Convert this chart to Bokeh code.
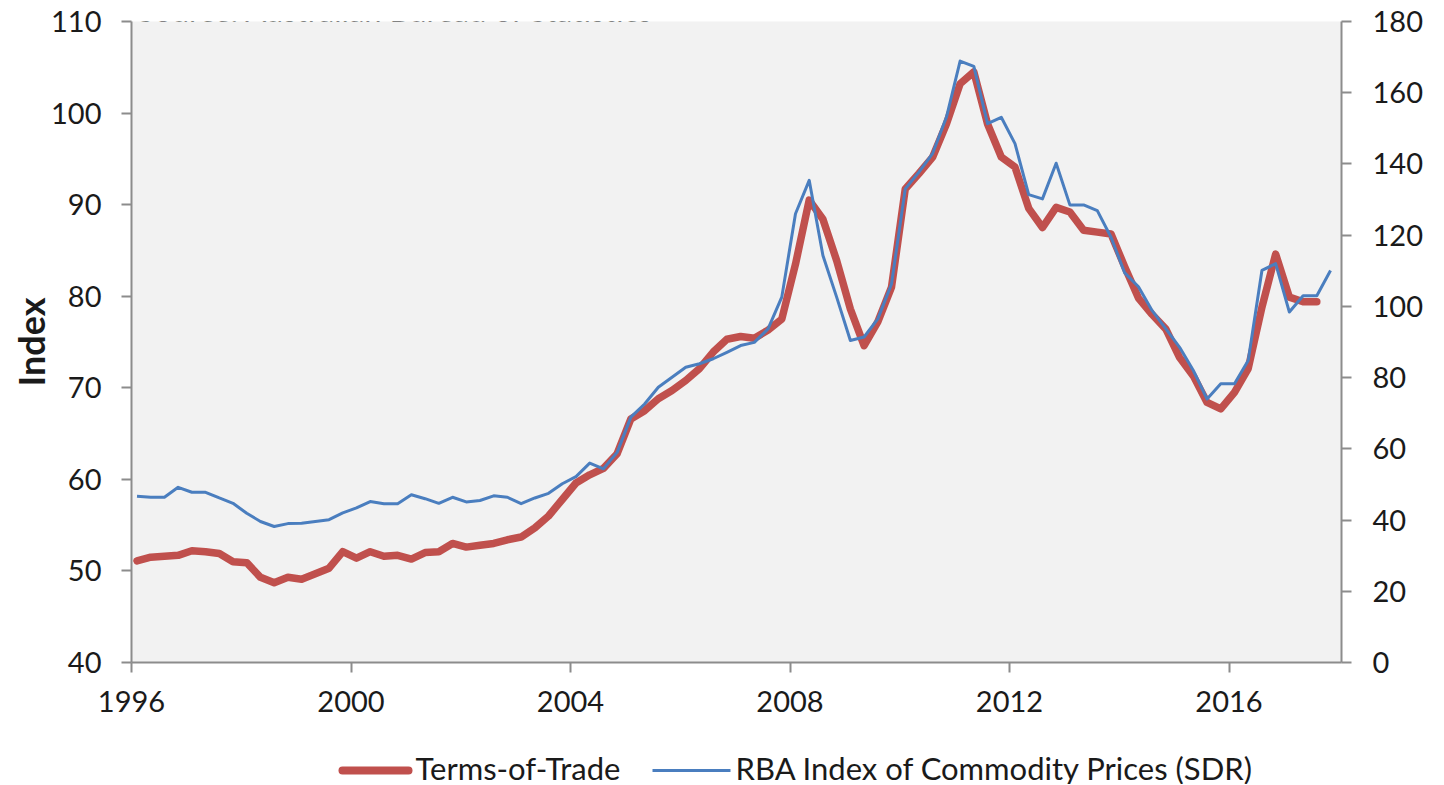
from bokeh.plotting import figure
from bokeh.models import Range1d, LinearAxis, FixedTicker, Label
from bokeh.layouts import column
from bokeh.core.properties import value
from bokeh.embed import file_html
from bokeh.resources import INLINE

# ---- data (quarterly, starting 1996 Q1) ----
terms_of_trade = [
    51.1, 51.5, 51.6, 51.7, 52.2, 52.1, 51.9, 51.0, 50.9, 49.3,
    48.7, 49.3, 49.1, 49.7, 50.3, 52.1, 51.4, 52.1, 51.6, 51.7,
    51.3, 52.0, 52.1, 53.0, 52.6, 52.8, 53.0, 53.4, 53.7, 54.7,
    56.0, 57.8, 59.6, 60.5, 61.2, 62.8, 66.6, 67.5, 68.8, 69.7,
    70.8, 72.1, 73.9, 75.3, 75.6, 75.4, 76.3, 77.5, 83.5, 90.5,
    88.4, 83.9, 78.6, 74.6, 77.2, 81.0, 91.7, 93.4, 95.2, 98.8,
    103.2, 104.5, 98.8, 95.2, 94.1, 89.6, 87.5, 89.7, 89.2, 87.2,
    87.0, 86.8, 83.2, 79.8, 78.0, 76.4, 73.3, 71.3, 68.4, 67.7,
    69.5, 72.1, 78.8, 84.6, 79.9, 79.4, 79.4,
]
rba_commodity_sdr = [
    46.7, 46.4, 46.4, 49.2, 47.8, 47.8, 46.2, 44.7, 41.9, 39.6,
    38.2, 39.0, 39.1, 39.6, 40.1, 42.0, 43.4, 45.2, 44.6, 44.6,
    47.1, 46.0, 44.7, 46.4, 45.1, 45.5, 46.8, 46.4, 44.6, 46.2,
    47.5, 50.2, 52.2, 56.0, 54.4, 59.0, 68.9, 72.6, 77.3, 80.1,
    82.9, 83.9, 85.3, 87.1, 89.0, 89.9, 93.7, 102.6, 126.0, 135.4,
    114.3, 102.6, 90.4, 91.4, 96.5, 106.3, 133.0, 137.7, 143.0, 153.1,
    168.9, 167.4, 151.3, 153.1, 145.7, 131.4, 130.2, 140.2, 128.5, 128.5,
    126.9, 119.4, 109.4, 105.5, 98.8, 93.7, 88.5, 82.0, 74.0, 78.3,
    78.3, 84.8, 110.1, 112.0, 98.4, 103.0, 103.0, 110.1,
]
series_names = ["Terms-of-Trade", "RBA Index of Commodity Prices (SDR)"]
source_note = "Source: Australian Bureau of Statistics"
first_quarter = 1996.1   # position of the first quarterly observation (decimal year)
quarter = 0.25
x_ticks = [1996, 2000, 2004, 2008, 2012, 2016]
left_ticks = [40, 50, 60, 70, 80, 90, 100, 110]
right_ticks = [0, 20, 40, 60, 80, 100, 120, 140, 160, 180]

x_tot = [first_quarter + quarter * i for i in range(len(terms_of_trade))]
x_rba = [first_quarter + quarter * i for i in range(len(rba_commodity_sdr))]

FONT = "Lato"
TXT = "#1a1a1a"
AX = "#8c8c8c"
RED = "#C0504D"
BLUE = "#4A7EBF"

W = 1440
MAIN_H, LEG_H = 735, 49
FL, FR, FT, FB = 131, 1341, 21, 662     # plot frame edges, page pixels
X0, X1, Y0, Y1 = 1996, 2018.05, 40, 110

# ---- main chart ----
p = figure(width=W, height=MAIN_H, output_backend="svg", toolbar_location=None,
           x_range=Range1d(X0, X1), y_range=Range1d(Y0, Y1),
           min_border_left=FL, min_border_right=W - FR, min_border_top=FT,
           min_border_bottom=MAIN_H - FB, background_fill_color="#F2F2F2",
           border_fill_color="white", outline_line_color=None)
p.extra_y_ranges = {"rba": Range1d(0, 180)}
p.xgrid.visible = False
p.ygrid.visible = False

ax_r = LinearAxis(y_range_name="rba")
p.add_layout(ax_r, "right")

def style(ax, ticks):
    ax.ticker = FixedTicker(ticks=ticks)
    ax.axis_line_color = AX
    ax.axis_line_width = 2
    ax.major_tick_line_color = AX
    ax.major_tick_line_width = 2
    ax.major_tick_in = 0
    ax.major_tick_out = 10
    ax.minor_tick_line_color = None
    ax.major_label_text_font = FONT
    ax.major_label_text_font_size = "29px"
    ax.major_label_text_color = TXT

style(p.xaxis[0], x_ticks)
style(p.left[0], left_ticks)
style(ax_r, right_ticks)
p.xaxis[0].major_label_standoff = 18
p.left[0].major_label_standoff = 20
ax_r.major_label_standoff = 21

p.left[0].axis_label = "Index"
p.left[0].axis_label_text_font = FONT
p.left[0].axis_label_text_font_style = "bold"
p.left[0].axis_label_text_font_size = "36px"
p.left[0].axis_label_text_color = TXT
p.left[0].axis_label_standoff = -5

p.line(x_tot, terms_of_trade, line_color=RED, line_width=7.5,
       line_join="round", line_cap="round")
p.line(x_rba, rba_commodity_sdr, y_range_name="rba", line_color=BLUE,
       line_width=3, line_join="round")

# source note, cut off at the top edge as in the reference
src_x = X0 + (137 - FL) * (X1 - X0) / (FR - FL)
src_y = Y1 + (FT - 9) * (Y1 - Y0) / (FB - FT)
p.add_layout(Label(x=src_x, y=src_y, text=source_note, text_font=FONT,
                   text_font_size="31px", text_color=TXT,
                   text_baseline="alphabetic", text_align="left"))

# ---- legend strip: frame aligned with the chart, coordinates in page pixels ----
leg = figure(width=W, height=LEG_H, output_backend="svg", toolbar_location=None,
             x_range=Range1d(FL, FR), y_range=Range1d(MAIN_H + LEG_H, MAIN_H),
             min_border_left=FL, min_border_right=W - FR,
             min_border_top=0, min_border_bottom=0,
             background_fill_color="white", border_fill_color="white",
             outline_line_color=None)
leg.axis.visible = False
leg.grid.visible = False
leg.segment(x0=[342], y0=[770], x1=[408], y1=[770], line_color=RED,
            line_width=8, line_cap="round")
leg.segment(x0=[652], y0=[770], x1=[730], y1=[770], line_color=BLUE, line_width=3)
leg.text(x=[415, 735], y=[767, 767], text=series_names, text_font=value(FONT),
         text_font_size="31px", text_color=TXT, text_baseline="middle")

layout = column(p, leg, spacing=0,
                styles={"position": "absolute", "top": "0px", "left": "0px"})

open("out.html", "w").write(file_html(layout, INLINE))
